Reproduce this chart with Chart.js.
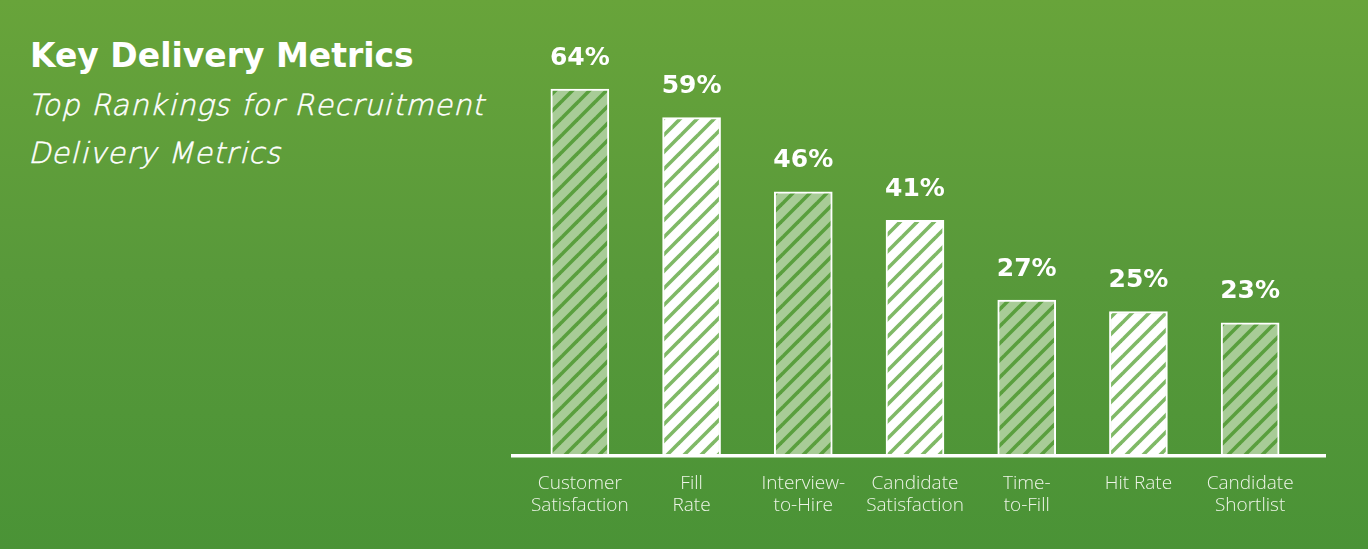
<!DOCTYPE html>
<html>
<head>
<meta charset="utf-8">
<script src="https://cdn.jsdelivr.net/npm/chart.js@4.4.1/dist/chart.umd.min.js"></script>
<style>
  @font-face {
    font-family: 'DVXL';
    src: local('DejaVu Sans ExtraLight'), local('DejaVuSans-ExtraLight');
  }
  html, body { margin: 0; padding: 0; }
  body {
    width: 1368px; height: 549px; overflow: hidden; position: relative;
    background: linear-gradient(to bottom, #68a43a 0%, #58993a 50%, #4a9336 100%);
    font-family: "Open Sans", sans-serif; color: #fff;
  }
  #title {
    position: absolute; left: 30px; top: 36px;
    font-family: "DejaVu Sans", sans-serif;
    font-size: 33px; font-weight: 700; line-height: 40px; white-space: nowrap;
  }
  #subtitle {
    position: absolute; left: 28px; top: 81px;
    font-family: 'DVXL', "DejaVu Sans", sans-serif;
    font-size: 29px; font-style: italic; line-height: 48px;
    letter-spacing: 1.2px; white-space: nowrap;
    -webkit-text-stroke: 0.5px #fff;
  }
  #chartWrap { position: absolute; left: 0; top: 0; width: 1368px; height: 549px; }
</style>
</head>
<body>
<div id="title">Key Delivery Metrics</div>
<div id="subtitle">Top Rankings for Recruitment<br>Delivery Metrics</div>
<div id="chartWrap"><canvas id="metricsChart"></canvas></div>
<script>
var categories = [
    ['Customer', 'Satisfaction'],
    ['Fill', 'Rate'],
    ['Interview-', 'to-Hire'],
    ['Candidate', 'Satisfaction'],
    ['Time-', 'to-Fill'],
    'Hit Rate',
    ['Candidate', 'Shortlist']
];
var rankings = [64, 59, 46, 41, 27, 25, 23];

// striped fills, "/" direction
function makeStripes(bg, stripe) {
    var s = 17;
    var tile = document.createElement('canvas');
    tile.width = s;
    tile.height = s;
    var t = tile.getContext('2d');
    t.fillStyle = bg;
    t.fillRect(0, 0, s, s);
    t.strokeStyle = stripe;
    t.lineWidth = 3.6;
    [-s, 0, s].forEach(function (k) {
        t.beginPath();
        t.moveTo(k - 3, s + 3);
        t.lineTo(k + s + 3, -3);
        t.stroke();
    });
    return t.createPattern(tile, 'repeat');
}

document.addEventListener('DOMContentLoaded', function () {
    var canvas = document.getElementById('metricsChart');
    var ctx = canvas.getContext('2d');

    var greenFill = makeStripes('#a8cc97', '#5a9f3e');
    var whiteFill = makeStripes('#ffffff', '#7fb966');
    var fills = rankings.map(function (v, i) { return i % 2 === 0 ? greenFill : whiteFill; });

    var valueLabels = {
        id: 'valueLabels',
        afterDatasetsDraw: function (chart) {
            var c = chart.ctx;
            var meta = chart.getDatasetMeta(0);
            c.save();
            c.fillStyle = '#ffffff';
            c.font = '700 25px "DejaVu Sans"';
            c.textAlign = 'center';
            c.textBaseline = 'middle';
            meta.data.forEach(function (bar, i) {
                c.fillText(rankings[i] + '%', bar.x, bar.y - 31);
            });
            // baseline
            var area = chart.chartArea;
            c.fillRect(area.left - 13, area.bottom, area.right - area.left + 33, 3.5);
            c.restore();
        }
    };

    new Chart(ctx, {
        type: 'bar',
        data: {
            labels: categories,
            datasets: [{
                data: rankings,
                backgroundColor: fills,
                borderColor: '#ffffff',
                borderWidth: 2,
                borderSkipped: 'bottom',
                barThickness: 58
            }]
        },
        options: {
            responsive: true,
            maintainAspectRatio: false,
            animation: false,
            layout: { padding: { left: 524, right: 62, top: 55, bottom: 0 } },
            plugins: {
                legend: { display: false },
                tooltip: { enabled: false }
            },
            scales: {
                y: {
                    display: false,
                    min: 0,
                    max: 70
                },
                x: {
                    grid: { display: false, drawTicks: false },
                    border: { display: false },
                    ticks: {
                        color: '#eef5e8',
                        font: { family: '"Open Sans"', size: 19, weight: 300, lineHeight: '22px' },
                        padding: 19,
                        autoSkip: false,
                        maxRotation: 0
                    },
                    afterFit: function (scale) { scale.height = 95; }
                }
            }
        },
        plugins: [valueLabels]
    });
});
</script>
</body>
</html>
